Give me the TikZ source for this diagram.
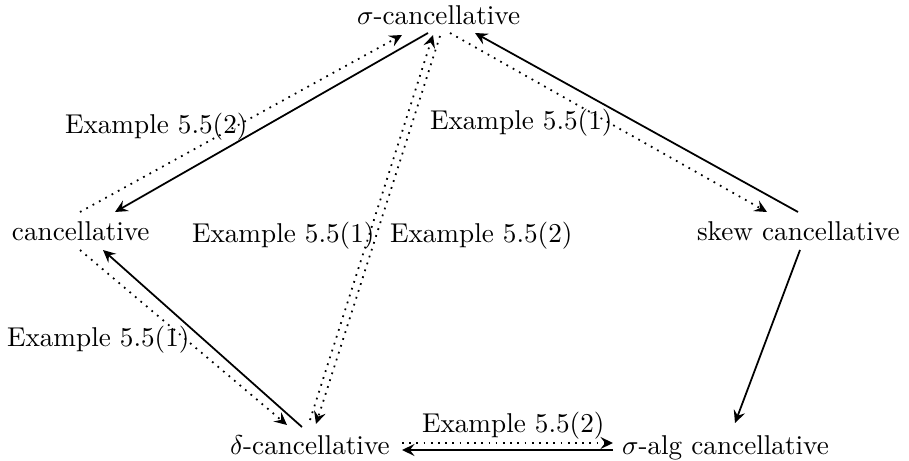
\documentclass[tikz,border=0pt]{standalone}
\usetikzlibrary{calc,arrows.meta}
\begin{document}
\begin{tikzpicture}[x=0.36765pt,y=-0.36765pt,
  obj/.style={inner sep=0pt,outer sep=0pt,anchor=base west},
  lbl/.style={inner sep=0pt,outer sep=0pt,anchor=base west},
  tip/.style={-{Stealth[length=4.6pt,width=4.4pt,inset=1.7pt]}},
  imp/.style={tip,line width=0.65pt},
  nonimp/.style={tip,line width=0.65pt,dotted}]
\useasboundingbox (0,0) rectangle (909,461);
% objects
\node[obj] (sig)   at (357,25)  {$\sigma$-cancellative};
\node[obj] (canc)  at (12,240)  {cancellative};
\node[obj] (skew)  at (697,240) {skew cancellative};
\node[obj] (delta) at (230,454) {$\delta$-cancellative};
\node[obj] (salg)  at (622,454) {$\sigma$-alg cancellative};
% labels
\node[lbl] (l1) at (65,133)  {Example 5.5(2)};
\node[lbl] (l2) at (430,130) {Example 5.5(1)};
\node[lbl] (l3) at (192,242) {Example 5.5(1)};
\node[lbl] (l4) at (390,242) {Example 5.5(2)};
\node[lbl] (l5) at (7,346)   {Example 5.5(1)};
\node[lbl] (l6) at (422,432) {Example 5.5(2)};
% cancellative <-> sigma
\draw[nonimp] ($(canc.base west)+(68,-28)$) -- ($(sig.base west)+(45,10)$);
\draw[imp] ($(sig.base west)+(71,8)$) -- ($(canc.base west)+(103,-28)$);
% delta <-> sigma
\draw[nonimp] ($(delta.base west)+(80,-34)$) -- ($(sig.base west)+(76,10)$);
\draw[nonimp] ($(sig.base west)+(83,11)$) -- ($(delta.base west)+(86,-30)$);
% sigma <-> skew
\draw[nonimp] ($(sig.base west)+(93,8)$) -- ($(skew.base west)+(70,-28)$);
\draw[imp] ($(skew.base west)+(101,-28)$) -- ($(sig.base west)+(118,8)$);
% skew -> salg
\draw[imp] ($(skew.base west)+(103,10)$) -- ($(salg.base west)+(113,-31)$);
% cancellative <-> delta
\draw[nonimp] ($(canc.base west)+(68,10)$) -- ($(delta.base west)+(57,-29)$);
\draw[imp] ($(delta.base west)+(72,-27)$) -- ($(canc.base west)+(91,10)$);
% delta <-> salg
\draw[nonimp] ($(delta.base west)+(172,-11)$) -- ($(salg.base west)+(-9,-11)$);
\draw[imp] ($(salg.base west)+(-9,-4)$) -- ($(delta.base west)+(172,-4)$);
\end{tikzpicture}
\end{document}
